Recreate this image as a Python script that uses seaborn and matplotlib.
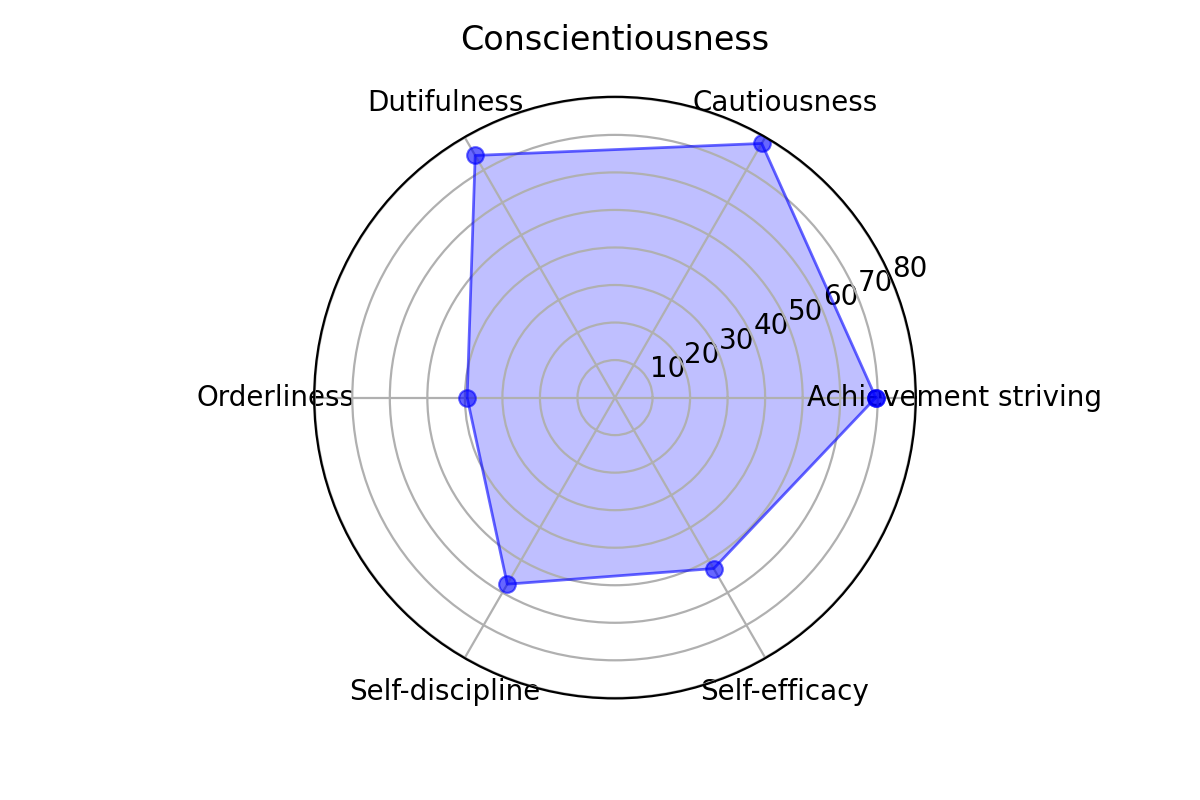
import seaborn as sns
import matplotlib
matplotlib.use('Agg')
import matplotlib.pyplot as plt
import numpy as np
import pandas as pd


categories = ['Achievement striving', 'Cautiousness', 'Dutifulness',
              'Orderliness', 'Self-discipline', 'Self-efficacy']
scores = [69.5, 78.2, 74.5, 39.4, 57.4, 52.6]
r_ticks = [10, 20, 30, 40, 50, 60, 70, 80]
title = 'Conscientiousness'


def make_radar(ax, labels, values):
    """Radar plot of the given values, loop closed on the first point"""
    n = len(labels)
    angles = np.linspace(0, 2 * np.pi, n, endpoint=False)

    # close the polygon
    df = pd.DataFrame({'angle': np.append(angles, angles[0]),
                       'value': list(values) + [values[0]]})

    sns.lineplot(x='angle', y='value', data=df, sort=False, ax=ax,
                 estimator=None, color='blue', alpha=0.6, linewidth=1.,
                 marker='o', markersize=6, markeredgecolor='blue')
    ax.fill(df['angle'], df['value'], color='blue', alpha=0.25,
            linewidth=0)

    ax.set_xticks(angles)
    ax.set_xticklabels(labels)
    ax.set_yticks(r_ticks)
    ax.set_yticklabels([str(t) for t in r_ticks])
    # a bit of room past the outer ring, as with autoscale margins
    ax.set_ylim(0, 80.15)
    ax.set(xlabel='', ylabel='')
    ax.grid(True)


if __name__ == '__main__':

    f = plt.figure(figsize=(6, 4), dpi=200)
    ax = f.add_subplot(111, projection='polar')
    f.subplots_adjust(top=0.879, bottom=0.127)

    make_radar(ax, categories, scores)
    ax.set_title(title, fontsize=12, pad=17)

    f.savefig('out.png', dpi=200)
